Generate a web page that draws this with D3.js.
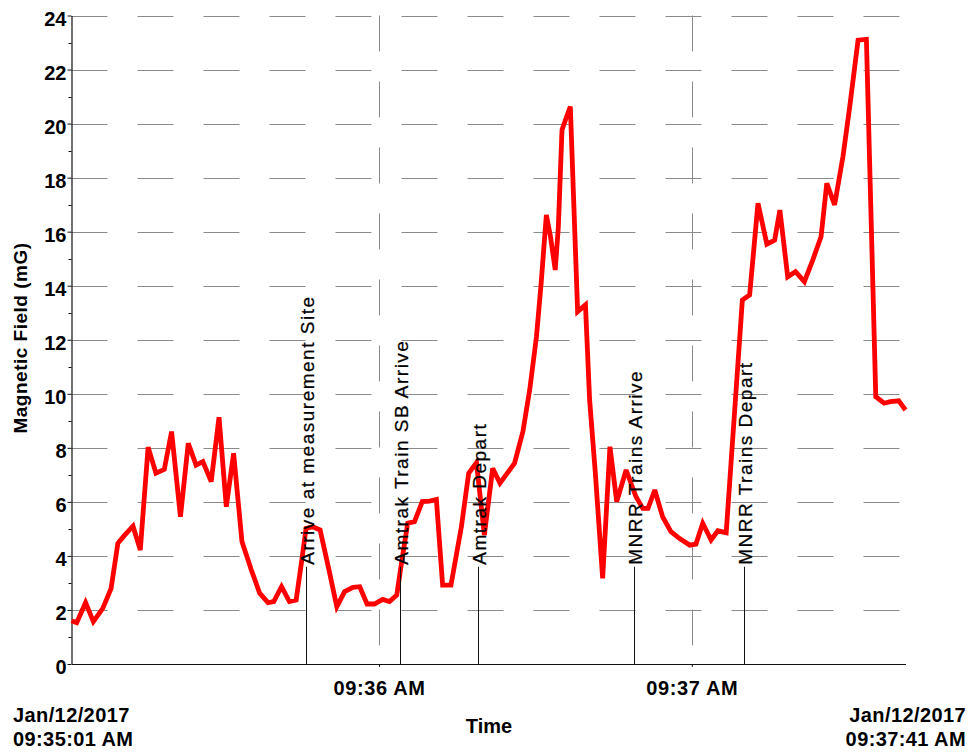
<!DOCTYPE html>
<html>
<head>
<meta charset="utf-8">
<script src="https://cdn.jsdelivr.net/npm/d3@7/dist/d3.min.js"></script>
<style>
  html, body { margin: 0; padding: 0; background: #fff; }
  svg { display: block; }
  text { font-family: Arial, "Liberation Sans", sans-serif; }
</style>
</head>
<body>
<svg id="chart" width="972" height="754"></svg>
<script>
// Recording window
const startStamp = "2017-01-12T09:35:01";
const endStamp = "2017-01-12T09:37:41";

// Seconds elapsed since 09:35:01 for each reading
const elapsed = [
  0, 1.0, 2.7, 4.2, 6.0, 7.6, 8.9, 10.2, 11.8, 13.2,
  13.8, 14.7, 16.2, 17.8, 19.2, 20.9, 22.4, 23.9, 25.2, 26.8,
  28.3, 29.7, 31.1, 32.7, 34.5, 36.1, 37.7, 38.8, 40.3, 41.8,
  43.1, 44.1, 45.0, 46.3, 47.7, 49.4, 50.9, 52.4, 54.0, 55.3,
  56.7, 58.1, 59.7, 61.0, 62.4, 63.4, 64.5, 65.8, 67.3, 68.7,
  70.0, 71.2, 72.8, 74.8, 76.2, 77.7, 79.2, 80.8, 82.2, 85.0,
  86.6, 87.9, 89.2, 90.1, 91.1, 91.9, 92.8, 93.4, 94.1, 95.0,
  95.7, 97.1, 98.6, 99.4, 100.5, 101.9, 103.3, 104.6, 106.4, 108.3,
  109.6, 110.6, 111.9, 113.4, 115.0, 116.6, 118.6, 119.8, 121.1, 122.7,
  124.0, 125.6, 128.7, 130.1, 131.7, 133.4, 134.9, 135.9, 137.4, 138.9,
  140.6, 142.2, 143.8, 144.9, 146.4, 148.0, 149.3, 150.9, 152.5, 154.3,
  155.9, 157.1, 158.7, 160
];

// Magnetic field readings (mG)
const field = [
  1.60, 1.53, 2.27, 1.57, 2.06, 2.80, 4.47, 4.77, 5.10, 4.22,
  5.76, 8.02, 7.06, 7.20, 8.60, 5.45, 8.17, 7.36, 7.49, 6.75,
  9.13, 5.82, 7.80, 4.53, 3.48, 2.62, 2.27, 2.31, 2.86, 2.31,
  2.37, 3.73, 5.02, 5.08, 4.96, 3.48, 2.12, 2.68, 2.84, 2.86,
  2.22, 2.22, 2.39, 2.31, 2.55, 3.85, 5.21, 5.27, 6.01, 6.03,
  6.09, 2.92, 2.92, 5.08, 7.06, 7.45, 4.77, 7.24, 6.69, 7.43,
  8.60, 10.14, 12.11, 14.09, 16.62, 15.81, 14.58, 16.18, 19.76, 20.26,
  20.63, 13.04, 13.29, 9.77, 7.06, 3.17, 8.04, 6.01, 7.18, 6.19,
  5.76, 5.76, 6.44, 5.45, 4.90, 4.65, 4.40, 4.44, 5.21, 4.59,
  4.93, 4.86, 13.47, 13.66, 17.05, 15.54, 15.69, 16.80, 14.33, 14.52,
  14.15, 14.95, 15.81, 17.79, 16.99, 18.78, 20.63, 23.09, 23.12, 9.89,
  9.65, 9.71, 9.74, 9.40
];

// Annotated events
const eventNames = [
  "Arrive at measurement Site",
  "Amtrak Train SB Arrive",
  "Amtrak Depart",
  "MNRR Trains Arrive",
  "MNRR Trains Depart"
];
const eventTimes = ["09:35:46", "09:36:04", "09:36:19", "09:36:49", "09:37:10"];

// Axis ticks
const yTicks = [0, 2, 4, 6, 8, 10, 12, 14, 16, 18, 20, 22, 24];
const yMinorTicks = [1, 3, 5, 7, 9, 11, 13, 15, 17, 19, 21, 23];
const xTickTimes = ["09:36:00", "09:37:00"];
const xTickLabels = ["09:36 AM", "09:37 AM"];
const startLabel = ["Jan/12/2017", "09:35:01 AM"];
const endLabel = ["Jan/12/2017", "09:37:41 AM"];

const parseStamp = d3.timeParse("%Y-%m-%dT%H:%M:%S");
const t0 = parseStamp(startStamp);
const t1 = parseStamp(endStamp);
const atClock = s => parseStamp("2017-01-12T" + s);

const readings = elapsed.map((s, i) => ({ t: new Date(t0.getTime() + s * 1000), v: field[i] }));

const svg = d3.select("#chart");
const plot = { left: 71.5, right: 905.5, top: 15.5, bottom: 664 };

const x = d3.scaleTime().domain([t0, t1]).range([plot.left, plot.right]);
const y = d3.scaleLinear().domain([0, 24]).range([plot.bottom, plot.top]);

const gridColor = "#8a8a8a";

// Horizontal dashed gridlines
svg.append("g")
  .selectAll("line")
  .data(yTicks.filter(d => d > 0))
  .join("line")
  .attr("x1", plot.left).attr("x2", plot.right)
  .attr("y1", d => Math.round(y(d)) + 0.5).attr("y2", d => Math.round(y(d)) + 0.5)
  .attr("stroke", gridColor).attr("stroke-width", 1)
  .attr("stroke-dasharray", "36 30");

// Vertical dashed gridlines at each minute
svg.append("g")
  .selectAll("line")
  .data(xTickTimes.map(atClock))
  .join("line")
  .attr("x1", d => Math.round(x(d)) + 0.5).attr("x2", d => Math.round(x(d)) + 0.5)
  .attr("y1", plot.top).attr("y2", plot.bottom)
  .attr("stroke", gridColor).attr("stroke-width", 1)
  .attr("stroke-dasharray", "36 30");

// Y axis
const yAxis = svg.append("g")
  .attr("transform", `translate(${plot.left},0)`)
  .call(d3.axisLeft(y).tickValues(yTicks).tickSize(4).tickPadding(1).tickSizeOuter(0));
yAxis.select(".domain").attr("stroke", "#111").attr("stroke-width", 1.2);
yAxis.selectAll(".tick line").attr("stroke", "#111");
yAxis.selectAll(".tick text")
  .attr("dy", "0.48em")
  .attr("fill", "#000")
  .style("font-size", "20px")
  .style("font-weight", "bold");

// Minor ticks at odd values
svg.append("g")
  .selectAll("line")
  .data(yMinorTicks)
  .join("line")
  .attr("x1", plot.left - 3).attr("x2", plot.left)
  .attr("y1", d => Math.round(y(d)) + 0.5).attr("y2", d => Math.round(y(d)) + 0.5)
  .attr("stroke", "#111");

// X axis
const xAxis = svg.append("g")
  .attr("transform", `translate(0,${plot.bottom})`)
  .call(d3.axisBottom(x)
    .tickValues(xTickTimes.map(atClock))
    .tickFormat((d, i) => xTickLabels[i])
    .tickSize(3).tickPadding(14).tickSizeOuter(0));
xAxis.select(".domain").attr("stroke", "#111").attr("stroke-width", 1.2);
xAxis.selectAll(".tick line").attr("stroke", "#111");
xAxis.selectAll(".tick text")
  .attr("fill", "#000")
  .style("font-size", "20px")
  .style("letter-spacing", "0.6px")
  .style("font-weight", "bold");

// Field trace
const line = d3.line().x(d => x(d.t)).y(d => y(d.v));
svg.append("path")
  .datum(readings)
  .attr("d", line)
  .attr("fill", "none")
  .attr("stroke", "#ff0000")
  .attr("stroke-width", 4.8)
  .attr("stroke-linejoin", "miter")
  .attr("stroke-miterlimit", 3);

// Event markers with rotated labels
const markerTop = y(3.6);
const ev = svg.append("g")
  .selectAll("g")
  .data(eventNames.map((n, i) => ({ name: n, t: atClock(eventTimes[i]) })))
  .join("g");
ev.append("line")
  .attr("x1", d => Math.round(x(d.t)) + 0.5).attr("x2", d => Math.round(x(d.t)) + 0.5)
  .attr("y1", plot.bottom).attr("y2", markerTop)
  .attr("stroke", "#111").attr("stroke-width", 1);
ev.append("text")
  .attr("transform", d => `translate(${Math.round(x(d.t)) + 0.5},${markerTop - 2}) rotate(-90)`)
  .attr("dy", "0.38em")
  .attr("text-anchor", "start")
  .attr("fill", "#000")
  .attr("stroke", "#000")
  .attr("stroke-width", 0.25)
  .style("font-size", "19px")
  .style("letter-spacing", "1.5px")
  .text(d => d.name);

// Axis titles
svg.append("text")
  .attr("transform", "translate(27,338) rotate(-90)")
  .attr("text-anchor", "middle")
  .style("font-size", "19px")
  .style("font-weight", "bold")
  .style("letter-spacing", "0.5px")
  .text("Magnetic Field (mG)");

svg.append("text")
  .attr("x", 489).attr("y", 733)
  .attr("text-anchor", "middle")
  .style("font-size", "20px")
  .style("font-weight", "bold")
  .text("Time");

// Range endpoints
const endpoints = svg.append("g")
  .style("font-size", "20px")
  .style("font-weight", "bold")
  .style("letter-spacing", "0.4px");
endpoints.selectAll("text.start")
  .data(startLabel).join("text").attr("class", "start")
  .attr("x", 13).attr("y", (d, i) => 722 + i * 24)
  .attr("text-anchor", "start")
  .text(d => d);
endpoints.selectAll("text.end")
  .data(endLabel).join("text").attr("class", "end")
  .attr("x", 966).attr("y", (d, i) => 722 + i * 24)
  .attr("text-anchor", "end")
  .text(d => d);
</script>
</body>
</html>
